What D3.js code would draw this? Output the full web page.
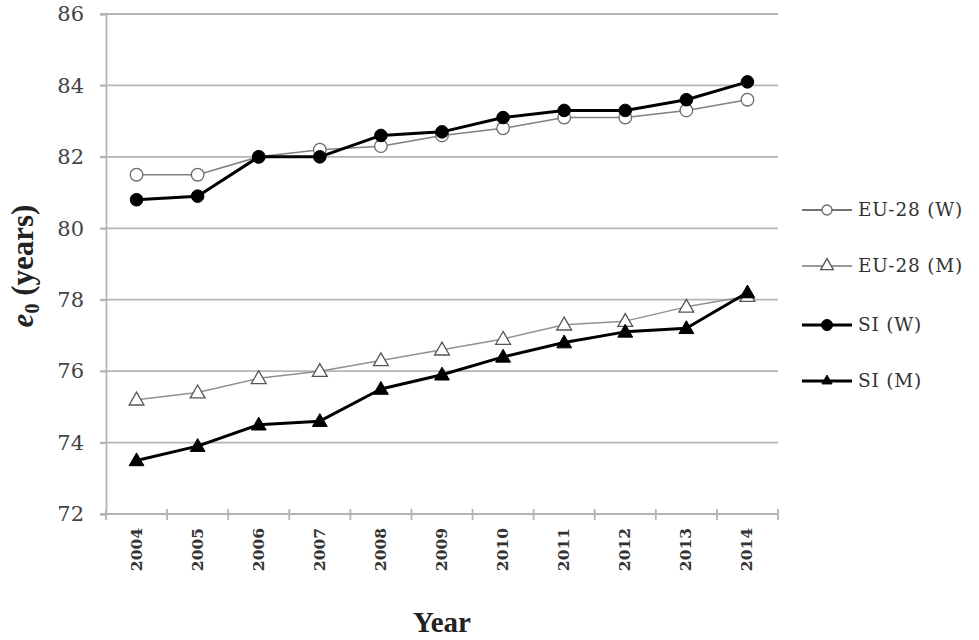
<!DOCTYPE html>
<html><head><meta charset="utf-8">
<script src="https://cdn.jsdelivr.net/npm/d3@7"></script>
<style>body{margin:0;background:#fff}svg{display:block}</style>
</head><body>
<svg id="c" width="979" height="640"></svg>
<script>
const years = ["2004","2005","2006","2007","2008","2009","2010","2011","2012","2013","2014"];
const yTicks = [72,74,76,78,80,82,84,86];
const euW = [81.5,81.5,82.0,82.2,82.3,82.6,82.8,83.1,83.1,83.3,83.6];
const euM = [75.2,75.4,75.8,76.0,76.3,76.6,76.9,77.3,77.4,77.8,78.1];
const siW = [80.8,80.9,82.0,82.0,82.6,82.7,83.1,83.3,83.3,83.6,84.1];
const siM = [73.5,73.9,74.5,74.6,75.5,75.9,76.4,76.8,77.1,77.2,78.2];
const seriesNames = ["EU-28 (W)","EU-28 (M)","SI (W)","SI (M)"];

const series = [
  {name:seriesNames[0], values:euW, line:"#808080", lw:1.5, shape:"circle", fill:"#fff", stroke:"#6a6a6a", sw:1.3, legLine:"#444", legLw:1.5},
  {name:seriesNames[1], values:euM, line:"#909090", lw:1.5, shape:"triangle", fill:"#fff", stroke:"#555", sw:1.3, legLine:"#999", legLw:2},
  {name:seriesNames[2], values:siW, line:"#000", lw:3, shape:"circle", fill:"#000", stroke:"#000", sw:1, legLine:"#000", legLw:3},
  {name:seriesNames[3], values:siM, line:"#000", lw:3, shape:"triangle", fill:"#000", stroke:"#000", sw:1, legLine:"#000", legLw:3}
];

const svg = d3.select("#c");
const L=106, R=778, T=14, B=514;
const x = d3.scaleBand().domain(years).range([L,R]);
const y = d3.scaleLinear().domain([72,86]).range([B,T]);
const grid = "#b4b4b4";

// gridlines
svg.append("g").selectAll("line").data(yTicks.filter(d=>d>72)).join("line")
  .attr("x1",L-6).attr("x2",R).attr("y1",d=>y(d)).attr("y2",d=>y(d))
  .attr("stroke",grid).attr("stroke-width",1.8);

// y axis
const ya = svg.append("g").attr("transform",`translate(${L},0)`)
  .call(d3.axisLeft(y).tickValues(yTicks).tickSize(6).tickPadding(16));
ya.select(".domain").attr("stroke",grid).attr("stroke-width",1.8);
ya.selectAll(".tick line").attr("stroke",grid).attr("stroke-width",1.8);
ya.selectAll(".tick text").attr("font-family","DejaVu Serif").attr("font-size",21).attr("fill","#444");

// x axis with ticks between bands
const xa = svg.append("g").attr("transform",`translate(0,${B})`);
xa.append("line").attr("x1",L-6).attr("x2",R).attr("stroke",grid).attr("stroke-width",1.8);
const edges = years.map(d=>x(d)).concat([R]);
xa.selectAll("line.tk").data(edges).join("line").attr("class","tk")
  .attr("x1",d=>d).attr("x2",d=>d).attr("y1",-5).attr("y2",6).attr("stroke",grid).attr("stroke-width",1.8);
xa.selectAll("text").data(years).join("text")
  .attr("transform",d=>`translate(${x(d)+x.bandwidth()/2+5},14) rotate(-90)`)
  .attr("text-anchor","end").attr("font-family","DejaVu Serif").attr("font-size",15.5)
  .attr("font-weight","bold").attr("fill","#333").text(d=>d);

// axis titles
svg.append("text").attr("x",442).attr("y",632).attr("text-anchor","middle")
  .attr("font-family","Liberation Serif").attr("font-weight","bold").attr("font-size",29).attr("fill","#222").text("Year");
const yt = svg.append("text").attr("transform","translate(33,266) rotate(-90)").attr("text-anchor","middle")
  .attr("font-family","Liberation Serif").attr("font-weight","bold").attr("font-size",31).attr("fill","#222");
yt.append("tspan").attr("font-style","italic").text("e");
yt.append("tspan").attr("font-size",20).attr("dy",6).text("0");
yt.append("tspan").attr("dy",-6).text(" (years)");

const cx = (d,i)=>x(years[i])+x.bandwidth()/2;
const tri = d3.symbol().type(d3.symbolTriangle).size(95);
function marker(g, s, px, py){
  if(s.shape==="circle"){
    g.append("circle").attr("cx",px).attr("cy",py).attr("r",6.3)
      .attr("fill",s.fill).attr("stroke",s.stroke).attr("stroke-width",s.sw);
  } else {
    g.append("path").attr("d",tri).attr("transform",`translate(${px},${py+1})`)
      .attr("fill",s.fill).attr("stroke",s.stroke).attr("stroke-width",s.sw);
  }
}
const line = d3.line().x(cx).y(d=>y(d));
series.forEach(s=>{
  const g = svg.append("g");
  g.append("path").attr("d",line(s.values)).attr("fill","none")
    .attr("stroke",s.line).attr("stroke-width",s.lw).attr("stroke-linejoin","round");
  s.values.forEach((v,i)=>marker(g,s,cx(v,i),y(v)));
});

// legend
const legY = [210,266,325,381];
series.forEach((s,i)=>{
  const g = svg.append("g");
  g.append("line").attr("x1",802).attr("x2",852).attr("y1",legY[i]).attr("y2",legY[i])
    .attr("stroke",s.legLine).attr("stroke-width",s.legLw);
  if(s.shape==="circle"){
    g.append("circle").attr("cx",827).attr("cy",legY[i]).attr("r",s.fill==="#000"?5.5:5)
      .attr("fill",s.fill).attr("stroke",s.stroke).attr("stroke-width",s.sw);
  } else {
    g.append("path").attr("d",d3.symbol().type(d3.symbolTriangle).size(s.fill==="#000"?45:70)).attr("transform",`translate(827,${legY[i]})`)
      .attr("fill",s.fill).attr("stroke",s.stroke).attr("stroke-width",s.sw);
  }
  g.append("text").attr("x",858).attr("y",legY[i]+6).attr("font-family","DejaVu Serif")
    .attr("font-size",18.5).attr("letter-spacing",0.8).attr("fill","#333").text(s.name);
});
</script>
</body></html>
